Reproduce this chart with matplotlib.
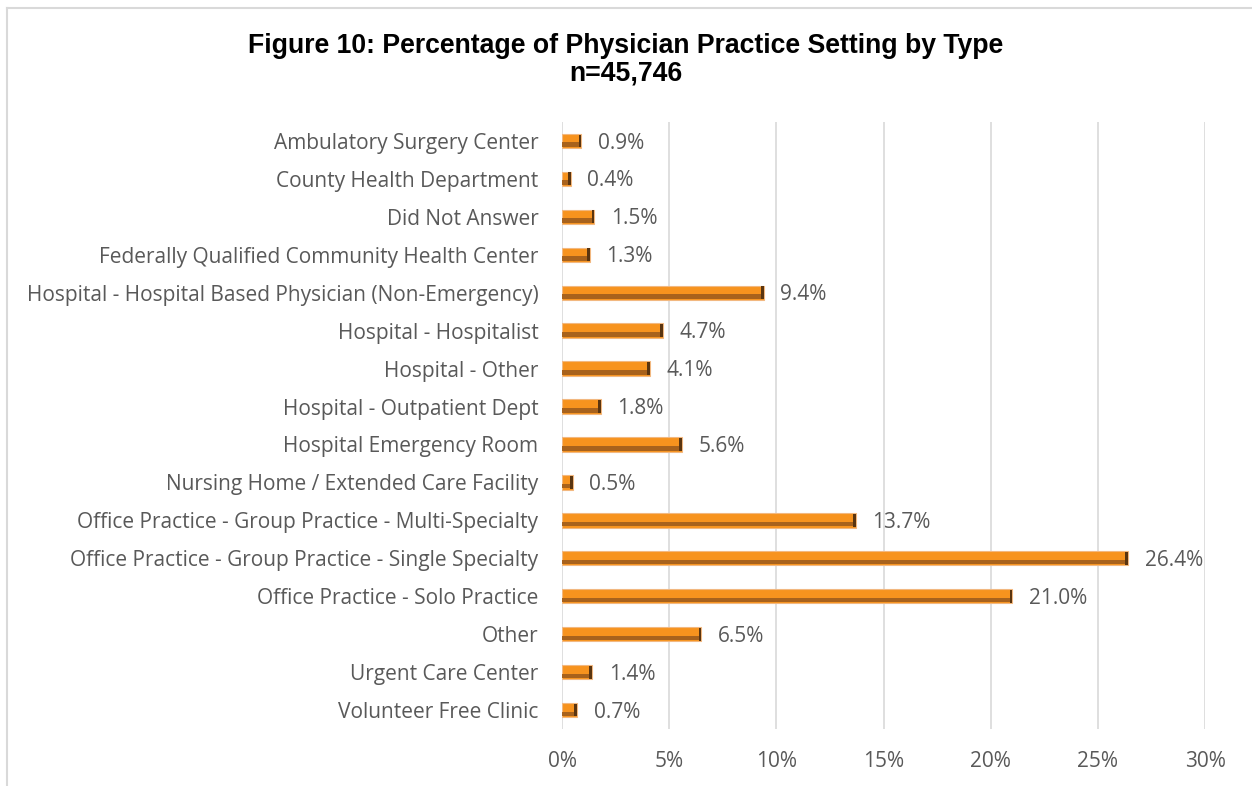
import matplotlib.pyplot as plt
from matplotlib.lines import Line2D

# Practice setting categories and their share of physicians (%)
categories = [
    'Ambulatory Surgery Center',
    'County Health Department',
    'Did Not Answer',
    'Federally Qualified Community Health Center',
    'Hospital - Hospital Based Physician (Non-Emergency)',
    'Hospital - Hospitalist',
    'Hospital - Other',
    'Hospital - Outpatient Dept',
    'Hospital Emergency Room',
    'Nursing Home / Extended Care Facility',
    'Office Practice - Group Practice - Multi-Specialty',
    'Office Practice - Group Practice - Single Specialty',
    'Office Practice - Solo Practice',
    'Other',
    'Urgent Care Center',
    'Volunteer Free Clinic',
]
percents = [0.9, 0.4, 1.5, 1.3, 9.4, 4.7, 4.1, 1.8, 5.6, 0.5, 13.7, 26.4, 21.0, 6.5, 1.4, 0.7]
x_ticks = [0, 5, 10, 15, 20, 25, 30]

text_color = '#595959'
plt.rcParams['font.family'] = ['Open Sans', 'DejaVu Sans']

fig = plt.figure(figsize=(12.52, 7.86), dpi=100)
ax = fig.add_axes([0.4489, 0.0725, 0.5136, 0.7723])

y = list(range(len(categories)))
# main bar with darker lower strip to mimic the bevelled look
ax.barh(y, percents, height=0.38, color='#F7931E', edgecolor='#F2B880', linewidth=0.8, zorder=3)
ax.barh([v + 0.1 for v in y], percents, height=0.12, color='#A8621C', linewidth=0, zorder=4)
ax.barh(y, [0.12] * len(y), left=[p - 0.12 for p in percents], height=0.34,
        color='#5A3510', linewidth=0, zorder=5)

for yi, p in zip(y, percents):
    ax.annotate(f'{p:.1f}%', xy=(p, yi), xytext=(12, -1.5), textcoords='offset points',
                va='center', ha='left', fontsize=15, color=text_color)

ax.set_xlim(0, 30)
ax.set_ylim(len(categories) - 0.5, -0.5)
ax.set_xticks(x_ticks)
ax.set_xticklabels([f'{t}%' for t in x_ticks])
ax.set_yticks(y)
ax.set_yticklabels(categories)
ax.tick_params(axis='both', length=0, labelsize=15, colors=text_color)
ax.tick_params(axis='x', pad=16)
ax.tick_params(axis='y', pad=17)
ax.grid(axis='x', color='#D9D9D9', linewidth=1.2, zorder=0)
for s in ax.spines.values():
    s.set_visible(False)

fig.text(0.5, 0.942, 'Figure 10: Percentage of Physician Practice Setting by Type',
         ha='center', va='center', fontsize=19.2, fontweight='bold',
         family='Liberation Sans', color='black')
fig.text(0.5, 0.906, 'n=45,746', ha='center', va='center', fontsize=19.2,
         fontweight='bold', family='Liberation Sans', color='black')

# chart frame (left and top edges)
fig.add_artist(Line2D([7 / 1252, 7 / 1252], [0, 1 - 8 / 786], transform=fig.transFigure,
                      color='#D9D9D9', linewidth=1.5))
fig.add_artist(Line2D([7 / 1252, 1], [1 - 8 / 786, 1 - 8 / 786], transform=fig.transFigure,
                      color='#D9D9D9', linewidth=1.5))

fig.savefig('out.png', dpi=100)
